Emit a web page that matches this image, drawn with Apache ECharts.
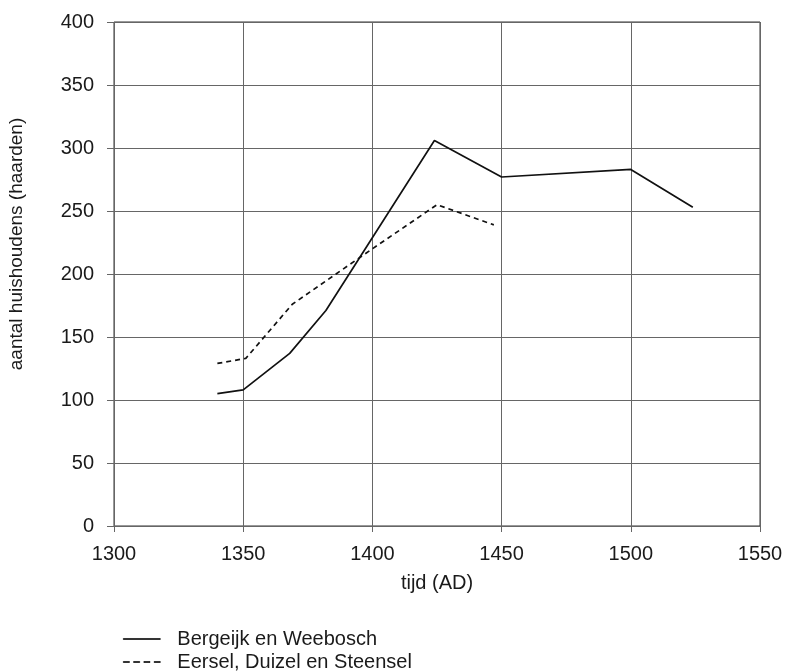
<!DOCTYPE html>
<html>
<head>
<meta charset="utf-8">
<script src="https://cdn.jsdelivr.net/npm/echarts@6/dist/echarts.min.js"></script>
<style>
  html, body { margin: 0; padding: 0; background: #fff; }
  #chart { width: 785px; height: 672px; }
</style>
</head>
<body>
<div id="chart"></div>
<script>
// Bergeijk en Weebosch
const bergeijkYears = [1340, 1350, 1368, 1382, 1424, 1450, 1500, 1524];
const bergeijkValues = [105, 108, 137, 171, 306, 277, 283, 253];
// Eersel, Duizel en Steensel
const eerselYears = [1340, 1351, 1369, 1400, 1425, 1447];
const eerselValues = [129, 133, 176, 220, 255, 239];

const seriesNames = ["Bergeijk en Weebosch", "Eersel, Duizel en Steensel"];

const toPairs = (xs, ys) => xs.map((x, i) => [x, ys[i]]);

const textColor = "#1a1a1a";
const font = "Liberation Sans, Arial, sans-serif";
const lineColor = "#111";

// legend icons: a solid stroke and four short dashes
const solidIcon = "path://M0,0H36V1H0Z";
const dashIcon = "path://M0,0H6V1H0Z M10,0H16V1H10Z M20,0H26V1H20Z M30,0H36V1H30Z";

const legendBase = {
  orient: "vertical",
  left: 118,
  itemWidth: 37,
  itemHeight: 2,
  selectedMode: false,
  itemStyle: { color: "#000", borderColor: "#000", borderWidth: 0.6, opacity: 1 },
  textStyle: {
    color: textColor,
    fontSize: 20,
    fontFamily: font,
    padding: [0, 0, 0, 12],
  },
};

const chart = echarts.init(document.getElementById("chart"));

const option = {
  animation: false,
  backgroundColor: "#fff",
  grid: {
    left: 114,
    right: 25,
    top: 22,
    bottom: 146,
    containLabel: false,
    outerBoundsMode: "none",
    show: true,
    borderColor: "#333",
    borderWidth: 1,
  },
  legend: [
    {
      ...legendBase,
      top: 624,
      data: [{ name: seriesNames[0], icon: solidIcon }],
    },
    {
      ...legendBase,
      top: 647,
      data: [{ name: seriesNames[1], icon: dashIcon }],
    },
  ],
  xAxis: {
    type: "value",
    min: 1300,
    max: 1550,
    interval: 50,
    name: "tijd (AD)",
    nameLocation: "middle",
    nameGap: 47,
    nameTextStyle: { color: textColor, fontSize: 20, fontFamily: font },
    axisLine: { show: false },
    axisTick: { show: true, inside: false, length: 6, lineStyle: { color: "#666" } },
    axisLabel: {
      color: textColor,
      fontSize: 20,
      fontFamily: font,
      margin: 18,
      formatter: (v) => String(v),
    },
    splitLine: { show: true, lineStyle: { color: "#666", width: 1 } },
  },
  yAxis: {
    type: "value",
    min: 0,
    max: 400,
    interval: 50,
    name: "aantal huishoudens (haarden)",
    nameLocation: "middle",
    nameGap: 88,
    nameTextStyle: {
      color: textColor,
      fontSize: 19,
      fontFamily: font,
      padding: [0, 0, 0, 60],
    },
    axisLine: { show: false },
    axisTick: { show: true, length: 7, lineStyle: { color: "#666" } },
    axisLabel: { color: textColor, fontSize: 20, fontFamily: font, margin: 20 },
    splitLine: { show: true, lineStyle: { color: "#666", width: 1 } },
  },
  series: [
    {
      name: seriesNames[0],
      type: "line",
      data: toPairs(bergeijkYears, bergeijkValues),
      symbol: "none",
      lineStyle: { color: lineColor, width: 1.7, type: "solid" },
      itemStyle: { color: lineColor },
    },
    {
      name: seriesNames[1],
      type: "line",
      data: toPairs(eerselYears, eerselValues),
      symbol: "none",
      lineStyle: { color: lineColor, width: 1.7, type: [5, 4] },
      itemStyle: { color: lineColor },
    },
  ],
};

chart.setOption(option);
</script>
</body>
</html>
